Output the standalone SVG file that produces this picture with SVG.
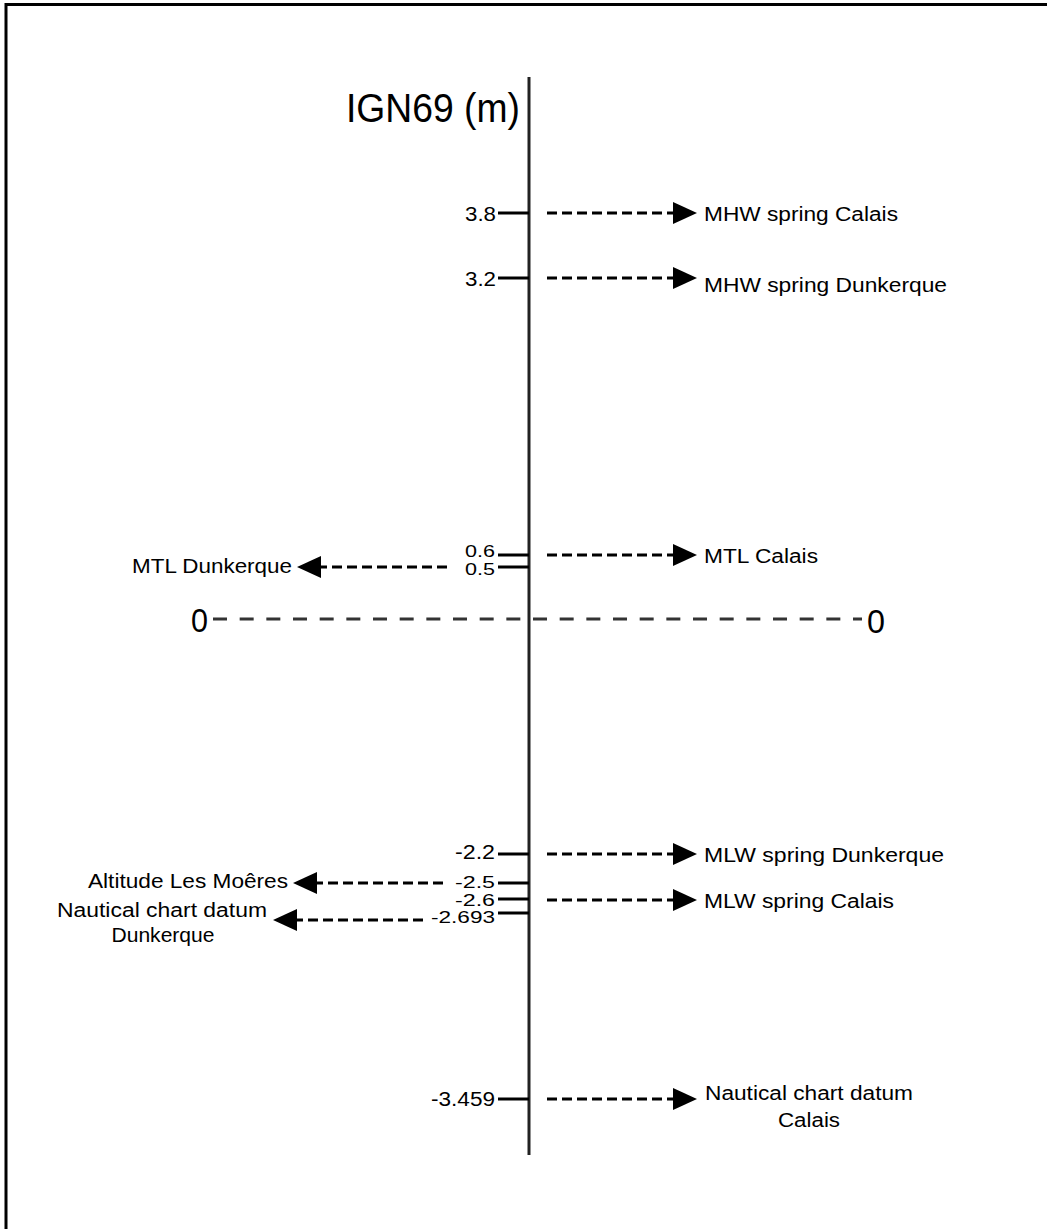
<svg xmlns="http://www.w3.org/2000/svg" width="1047" height="1229" viewBox="0 0 1047 1229">
<style>
text{font-family:"Liberation Sans",Arial,sans-serif;fill:#000}
.v{font-size:20px;text-anchor:end}
.s{font-size:17px}
.l{font-size:20px}
.c{font-size:20px;text-anchor:middle}
.tick{stroke:#000;stroke-width:3}
.arr{stroke:#000;stroke-width:3;stroke-dasharray:10 5;fill:none;marker-end:url(#ah)}
</style>
<defs>
<marker id="ah" viewBox="0 0 24 22" refX="2" refY="11" markerWidth="24" markerHeight="22" markerUnits="userSpaceOnUse" orient="auto">
<path d="M0,0 L24,11 L0,22 z" fill="#000"/>
</marker>
</defs>
<rect width="1047" height="1229" fill="#fff"/>
<rect x="6" y="4.5" width="1100" height="1300" fill="none" stroke="#000" stroke-width="3"/>

<g id="axis">
<line x1="529" y1="77" x2="529" y2="1155" stroke="#222" stroke-width="3"/>
<text x="346" y="122" font-size="40" textLength="174" lengthAdjust="spacingAndGlyphs">IGN69 (m)</text>
</g>

<g id="zero">
<line x1="213" y1="619" x2="862" y2="619" stroke="#333" stroke-width="3" stroke-dasharray="14 12.667"/>
<text x="191" y="632" font-size="34" textLength="17" lengthAdjust="spacingAndGlyphs">0</text>
<text x="867" y="633" font-size="34" textLength="18" lengthAdjust="spacingAndGlyphs">0</text>
</g>

<g id="level-3.8"><line class="tick" x1="498" y1="213" x2="529" y2="213"/><text class="v" x="496" y="221" textLength="31" lengthAdjust="spacingAndGlyphs">3.8</text></g>
<g id="level-3.2"><line class="tick" x1="498" y1="278" x2="529" y2="278"/><text class="v" x="496" y="286" textLength="31" lengthAdjust="spacingAndGlyphs">3.2</text></g>
<g id="level-0.6"><line class="tick" x1="498" y1="555" x2="529" y2="555"/><text class="v s" x="495" y="557" textLength="30" lengthAdjust="spacingAndGlyphs">0.6</text></g>
<g id="level-0.5"><line class="tick" x1="498" y1="567" x2="529" y2="567"/><text class="v s" x="495" y="575" textLength="30" lengthAdjust="spacingAndGlyphs">0.5</text></g>
<g id="level-2.2"><line class="tick" x1="498" y1="854" x2="529" y2="854"/><text class="v" x="495" y="859" textLength="40" lengthAdjust="spacingAndGlyphs">-2.2</text></g>
<g id="level-2.5"><line class="tick" x1="498" y1="883" x2="529" y2="883"/><text class="v s" x="495" y="888" textLength="40" lengthAdjust="spacingAndGlyphs">-2.5</text></g>
<g id="level-2.6"><line class="tick" x1="498" y1="899" x2="529" y2="899"/><text class="v s" x="495" y="906" textLength="40" lengthAdjust="spacingAndGlyphs">-2.6</text></g>
<g id="level-2.693"><line class="tick" x1="498" y1="913" x2="529" y2="913"/><text class="v s" x="495" y="923" textLength="64" lengthAdjust="spacingAndGlyphs">-2.693</text></g>
<g id="level-3.459"><line class="tick" x1="498" y1="1099" x2="529" y2="1099"/><text class="v" x="495" y="1106" textLength="64" lengthAdjust="spacingAndGlyphs">-3.459</text></g>

<g id="label-mhw-calais"><text class="l" x="704" y="221" textLength="194" lengthAdjust="spacingAndGlyphs">MHW spring Calais</text></g>
<g id="label-mhw-dunkerque"><text class="l" x="704" y="292" textLength="243" lengthAdjust="spacingAndGlyphs">MHW spring Dunkerque</text></g>
<g id="label-mtl-calais"><text class="l" x="704" y="563" textLength="114" lengthAdjust="spacingAndGlyphs">MTL Calais</text></g>
<g id="label-mtl-dunkerque"><text class="v" x="292" y="573" textLength="160" lengthAdjust="spacingAndGlyphs">MTL Dunkerque</text></g>
<g id="label-mlw-dunkerque"><text class="l" x="704" y="862" textLength="240" lengthAdjust="spacingAndGlyphs">MLW spring Dunkerque</text></g>
<g id="label-altitude"><text class="v" x="288" y="888" textLength="200" lengthAdjust="spacingAndGlyphs">Altitude Les Moêres</text></g>
<g id="label-mlw-calais"><text class="l" x="704" y="908" textLength="190" lengthAdjust="spacingAndGlyphs">MLW spring Calais</text></g>
<g id="label-ncd-dunkerque">
<text class="c" x="162" y="917" textLength="210" lengthAdjust="spacingAndGlyphs">Nautical chart datum</text>
<text class="c" x="163" y="942" textLength="103" lengthAdjust="spacingAndGlyphs">Dunkerque</text>
</g>
<g id="label-ncd-calais">
<text class="c" x="809" y="1100" textLength="208" lengthAdjust="spacingAndGlyphs">Nautical chart datum</text>
<text class="c" x="809" y="1127" textLength="62" lengthAdjust="spacingAndGlyphs">Calais</text>
</g>

<g id="connectors">
<line class="arr" x1="547" y1="213" x2="675" y2="213"/>
<line class="arr" x1="547" y1="278" x2="675" y2="278"/>
<line class="arr" x1="547" y1="555" x2="675" y2="555"/>
<line class="arr" x1="447" y1="567" x2="319" y2="567"/>
<line class="arr" x1="547" y1="854" x2="675" y2="854"/>
<line class="arr" x1="443" y1="883" x2="315" y2="883"/>
<line class="arr" x1="547" y1="900" x2="675" y2="900"/>
<line class="arr" x1="423" y1="920" x2="295" y2="920"/>
<line class="arr" x1="547" y1="1099" x2="675" y2="1099"/>
</g>
</svg>
